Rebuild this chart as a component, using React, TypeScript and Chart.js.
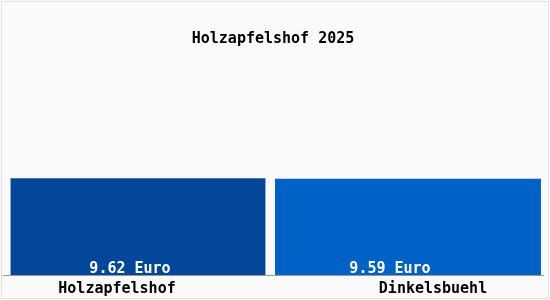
import React, { useEffect, useRef } from "react";
import { Chart, registerables } from "chart.js";

Chart.register(...registerables);

const categories = ["Holzapfelshof", "Dinkelsbuehl"];
const values = [9.62, 9.59];
const valueLabels = ["9.62 Euro", "9.59 Euro"];
const titleText = "Holzapfelshof 2025";

const barColors = ["#02479a", "#0061c6"];
const barPercents = [0.944, 0.985];
const valueLabelOffsets = [-8, -18];
const catLabelOffsets = [-21, 25];
const FONT = "'DejaVu Sans Mono', monospace";

export default function App() {
  const ref = useRef<HTMLCanvasElement | null>(null);
  useEffect(() => {
    document.body.style.margin = "0";
    const canvas = ref.current;
    if (!canvas) return;
    const decor = {
      id: "decor",
      beforeDraw(chart: any) {
        const { ctx, width, height } = chart;
        ctx.save();
        ctx.fillStyle = "#fafafa";
        ctx.fillRect(0, 0, width, height);
        ctx.strokeStyle = "#e2e2e2";
        ctx.lineWidth = 1;
        ctx.strokeRect(1.5, 1.5, width - 3, height - 3);
        ctx.restore();
      },
      afterDatasetsDraw(chart: any) {
        const { ctx, chartArea } = chart;
        ctx.save();
        ctx.font = "bold 15px " + FONT;
        ctx.textAlign = "center";
        ctx.textBaseline = "middle";
        ctx.fillStyle = "#ffffff";
        chart.data.datasets.forEach((ds: any, di: number) => {
          const meta = chart.getDatasetMeta(di);
          const el = meta.data[di];
          if (!el) return;
          ctx.fillText(valueLabels[di], el.x + valueLabelOffsets[di], chartArea.bottom - 6);
        });
        const xs = chart.scales.x;
        ctx.fillStyle = "#000000";
        categories.forEach((c, i) => {
          ctx.fillText(c, xs.getPixelForValue(i) + catLabelOffsets[i], chartArea.bottom + 14);
        });
        ctx.restore();
      },
    };
    const chart = new Chart(canvas, {
      type: "bar",
      data: {
        labels: categories,
        datasets: categories.map((c, i) => ({
          label: c,
          data: values.map((v, j) => (j === i ? v : null)),
          backgroundColor: barColors[i],
          barPercentage: barPercents[i],
          categoryPercentage: 1,
          grouped: false,
        })),
      },
      options: {
        responsive: false,
        animation: false,
        layout: { padding: { left: 3, right: 7, bottom: 17, top: 0 } },
        plugins: {
          legend: { display: false },
          tooltip: { enabled: false },
          title: {
            display: true,
            text: titleText,
            color: "#000000",
            font: { family: FONT, size: 15, weight: "bold" },
            padding: { top: 30, bottom: 11 },
          },
        },
        scales: {
          x: {
            grid: { display: false },
            border: { display: true, color: "#999999" },
            ticks: { display: false },
          },
          y: {
            display: false,
            min: 0,
            max: 21.5,
          },
        },
      },
      plugins: [decor],
    });
    return () => chart.destroy();
  }, []);
  return (
    <div style={{ width: 550, height: 300 }}>
      <canvas ref={ref} width={550} height={300} style={{ display: "block" }} />
    </div>
  );
}
